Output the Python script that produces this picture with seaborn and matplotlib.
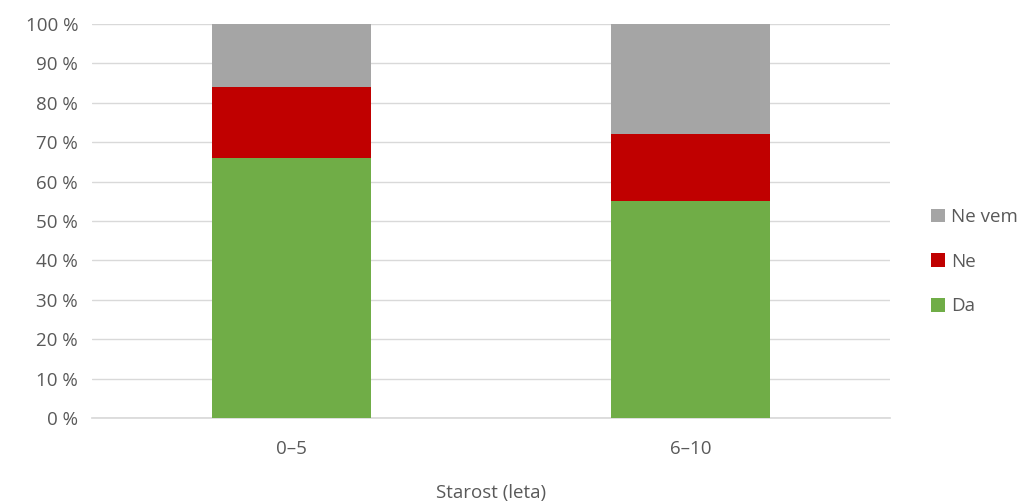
import matplotlib
matplotlib.use("Agg")
import matplotlib.pyplot as plt
import seaborn as sns
import pandas as pd
import numpy as np

categories = ["0–5", "6–10"]
da = [66, 55]
ne = [18, 17]
ne_vem = [16, 28]
series_names = ["Da", "Ne", "Ne vem"]
colors = {"Da": "#70AD47", "Ne": "#C00000", "Ne vem": "#A5A5A5"}
yticks = list(range(0, 101, 10))

sns.set_theme(style="white")
plt.rcParams["font.family"] = ["Open Sans", "DejaVu Sans"]
text_color = "#595959"
fs = 13.5

fig = plt.figure(figsize=(10.26, 5.04), dpi=100)
ax = fig.add_axes([92/1026, 1 - 418/504, (890-92)/1026, (418-24)/504])

cum_ne = np.array(da) + np.array(ne)
cum_all = cum_ne + np.array(ne_vem)
layers = [("Ne vem", cum_all), ("Ne", cum_ne), ("Da", np.array(da))]
for name, vals in layers:
    df = pd.DataFrame({"cat": categories, "val": vals})
    sns.barplot(data=df, x="cat", y="val", color=colors[name], width=0.4,
                ax=ax, label=name, saturation=1, zorder=3, linewidth=0)

ax.set_xlim(-0.5, 1.5)
ax.set_ylim(0, 100)
ax.set_yticks(yticks)
ax.set_yticklabels([f"{t} %" for t in yticks])
ax.yaxis.grid(True, color="#D9D9D9", linewidth=1, zorder=0)
ax.set_axisbelow(True)
for s in ["top", "right", "left"]:
    ax.spines[s].set_visible(False)
ax.spines["bottom"].set_color("#D9D9D9")
ax.tick_params(axis="both", length=0, labelsize=fs, colors=text_color)
ax.tick_params(axis="x", pad=16)
ax.tick_params(axis="y", pad=10)
ax.set_ylabel("")
ax.set_xlabel("Starost (leta)", fontsize=fs, color=text_color, va="center")
ax.xaxis.set_label_coords(0.5, (418 - 493) / 394)

handles, labels = ax.get_legend_handles_labels()
leg = ax.legend(handles, labels, loc="center left", bbox_to_anchor=(1.03, 0.397),
                frameon=False, fontsize=fs, handlelength=0.75, handleheight=0.75,
                handletextpad=0.35, labelspacing=1.42, labelcolor=text_color)

fig.savefig("out.png", dpi=100)
